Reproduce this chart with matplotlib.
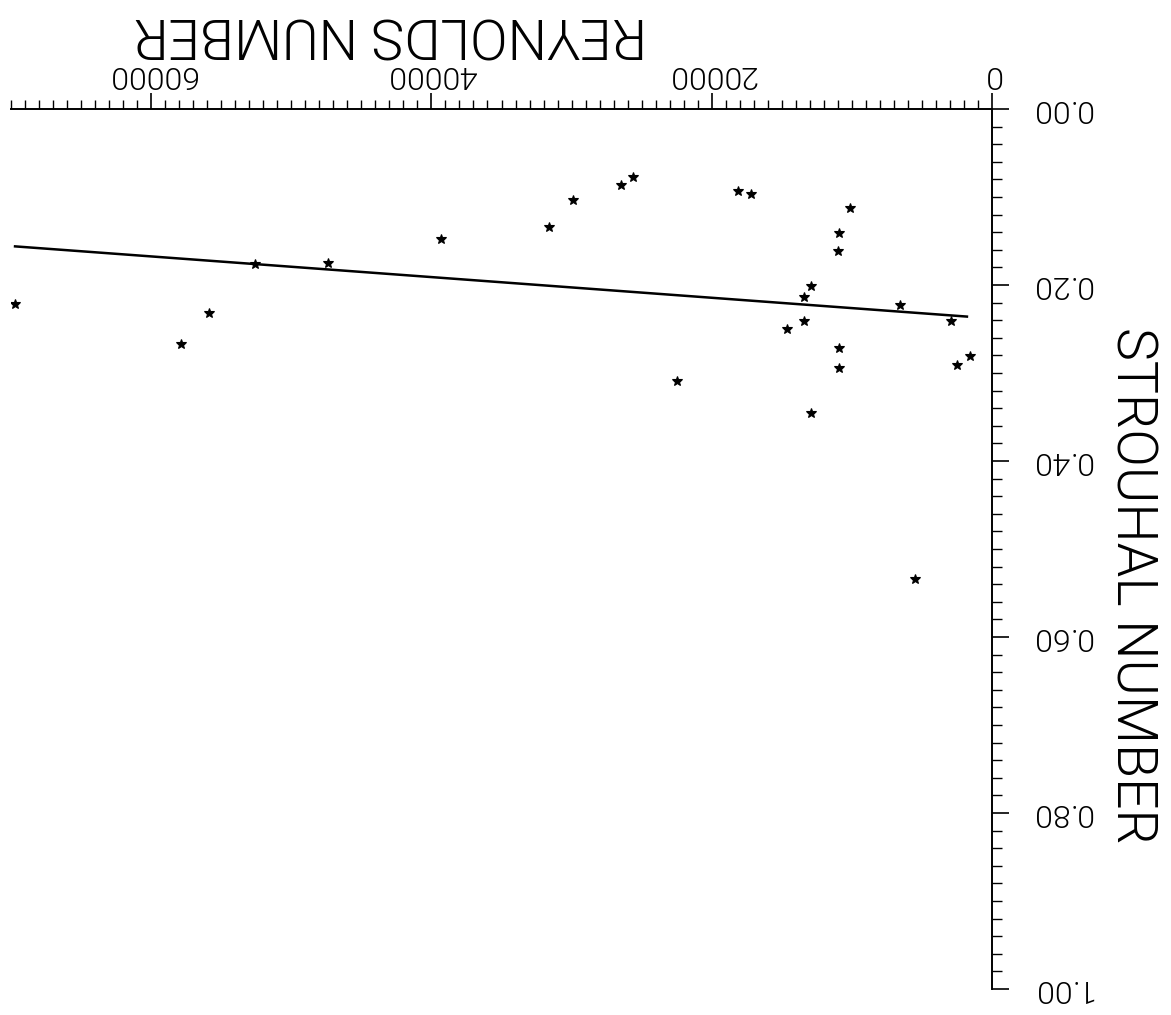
import matplotlib
matplotlib.use('Agg')
import matplotlib.pyplot as plt
from matplotlib.ticker import MultipleLocator

# ---- data ----
reynolds = [31600, 29900, 26500, 25600, 18100, 17200, 10100, 10900, 11000,
            12900, 13400, 6600, 2900, 13400, 14600, 10900, 10900, 1600, 2500,
            22500, 12900, 39300, 47400, 52600, 69700, 55900, 57900, 5500]
strouhal = [0.134, 0.103, 0.086, 0.077, 0.093, 0.097, 0.113, 0.141, 0.161,
            0.201, 0.214, 0.223, 0.241, 0.241, 0.250, 0.272, 0.294, 0.281, 0.291,
            0.309, 0.345, 0.148, 0.175, 0.176, 0.222, 0.232, 0.267, 0.534]
fit_re = [1700, 69800]
fit_st = [0.236, 0.156]

x_ticks = [0, 20000, 40000, 60000]
x_labels = ['0', '20000', '40000', '60000']
y_ticks = [0.0, 0.2, 0.4, 0.6, 0.8, 1.0]
y_labels = ['0.00', '0.20', '0.40', '0.60', '0.80', '1.00']

FONT = ['Roboto', 'DejaVu Sans']
WEIGHT = 300

W, H = 1171, 1015
fig = plt.figure(figsize=(W / 100, H / 100), dpi=100)
left_px, right_px, top_px, bot_px = 11, 992, 109, 989
ax = fig.add_axes([left_px / W, 1 - bot_px / H, (right_px - left_px) / W, (bot_px - top_px) / H])

ax.plot(fit_re, fit_st, color='black', lw=1.8, solid_capstyle='butt')
ax.plot(reynolds, strouhal, linestyle='none', marker='*', markersize=7,
        color='black', markeredgewidth=0.8)

ax.set_xlim(70000, 0)
ax.set_ylim(1.0, 0.0)

ax.xaxis.tick_top()
ax.yaxis.tick_right()
for s in ['left', 'bottom']:
    ax.spines[s].set_visible(False)
for s in ['top', 'right']:
    ax.spines[s].set_linewidth(1.4)

ax.set_xticks(x_ticks)
ax.set_xticklabels(x_labels, rotation=180, ha='center', va='bottom',
                   fontsize=23, family=FONT, fontweight=WEIGHT)
ax.set_yticks(y_ticks)
ax.set_yticklabels(y_labels, rotation=180, ha='left', va='center',
                   fontsize=23, family=FONT, fontweight=WEIGHT)
ax.xaxis.set_minor_locator(MultipleLocator(1000))
ax.yaxis.set_minor_locator(MultipleLocator(0.02))

ax.tick_params(axis='x', which='major', direction='out', length=11.5, width=1.2, pad=3)
ax.tick_params(axis='x', which='minor', direction='out', length=6.5, width=1.0)
ax.tick_params(axis='y', which='major', direction='out', length=12, width=1.2, pad=16)
ax.tick_params(axis='y', which='minor', direction='out', length=7, width=1.0)

fig.text(390 / W, 1 - 33 / H, 'REYNOLDS NUMBER', rotation=180, ha='center', va='center',
         fontsize=40, family=FONT, fontweight=WEIGHT)
fig.text(1132 / W, 1 - 585 / H, 'STROUHAL NUMBER', rotation=270, ha='center', va='center',
         fontsize=40, family=FONT, fontweight=WEIGHT)

fig.savefig('out.png', dpi=100, facecolor='white')
